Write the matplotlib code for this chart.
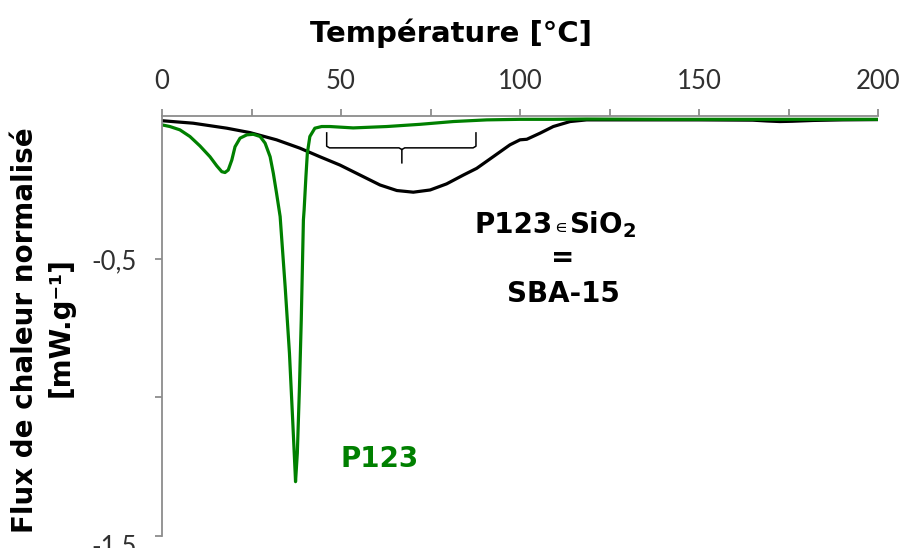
import matplotlib.pyplot as plt
import matplotlib.transforms as mtransforms

# SBA-15 (P123 in SiO2), black curve
t_sba = [0, 8.7, 18.1, 24.6, 32.0, 38.5, 44.1, 49.7, 55.3, 60.9, 65.6, 70.2, 74.9, 79.5,
         84.2, 87.9, 92.5, 97.2, 100, 101.9, 105.6, 109.3, 114, 118.6, 130, 150, 165,
         169, 172.6, 176, 182, 190, 200]
q_sba = [-0.001, -0.010, -0.028, -0.044, -0.070, -0.100, -0.131, -0.161, -0.197, -0.233,
         -0.253, -0.259, -0.251, -0.229, -0.197, -0.173, -0.131, -0.088, -0.070, -0.068,
         -0.046, -0.022, -0.004, 0.002, 0.002, 0.002, 0.001, -0.002, -0.004, -0.003,
         0.0, 0.002, 0.003]

# pure P123, green curve
t_p123 = [0, 2.2, 5.0, 7.8, 10.6, 13.4, 15.3, 16.7, 17.6, 18.5, 19.5, 20.4, 21.8, 23.7,
          25.5, 27.4, 28.8, 30.2, 31.1, 32.0, 33.0, 34.4, 35.6, 36.5, 37.2, 37.3, 37.8,
          38.4, 38.9, 39.3, 39.5, 39.7, 40.2, 40.6, 41.3, 42.7, 44.6, 46.9, 53.4, 62.8,
          72.1, 81.4, 90.7, 100, 109.3, 118.6, 140, 170, 200]
q_p123 = [-0.016, -0.022, -0.034, -0.058, -0.092, -0.131, -0.164, -0.185, -0.188, -0.179,
          -0.143, -0.095, -0.064, -0.052, -0.050, -0.058, -0.082, -0.131, -0.191, -0.263,
          -0.347, -0.600, -0.840, -1.081, -1.274, -1.304, -1.201, -0.961, -0.720, -0.479,
          -0.359, -0.323, -0.203, -0.118, -0.058, -0.028, -0.022, -0.022, -0.027, -0.022,
          -0.014, -0.004, 0.002, 0.004, 0.004, 0.005, 0.004, 0.004, 0.004]

x_ticks = [0, 25, 50, 75, 100, 125, 150, 175, 200]
x_labels = ['0', '', '50', '', '100', '', '150', '', '200']
y_ticks = [-1.5, -1.0, -0.5]
y_labels = ['-1,5', '', '-0,5']

green = '#008000'
grey = '#8c8c8c'

fig = plt.figure(figsize=(9.05, 5.48), dpi=100)
ax = fig.add_axes([162 / 905, 1 - 536 / 548, 716 / 905, 420 / 548])

ax.plot(t_sba, q_sba, color='black', lw=2.3, solid_joinstyle='round')
ax.plot(t_p123, q_p123, color=green, lw=2.3, solid_joinstyle='round')

# brace over the broad endotherm
bx0, bx1, bxm = 46, 87.7, 67
by0, by1, bym = -0.045, -0.099, -0.153
ax.plot([bx0, bx0, bx0 + 0.8, bxm - 0.8, bxm, bxm],
        [by0, by1 + 0.006, by1, by1, by1 - 0.006, bym], color='black', lw=1.1)
ax.plot([bx1, bx1, bx1 - 0.8, bxm + 0.8, bxm],
        [by0, by1 + 0.006, by1, by1, by1 - 0.006], color='black', lw=1.1)

ax.set_xlim(0, 200)
ax.set_ylim(-1.5, 0.016)

ax.xaxis.tick_top()
ax.set_xticks(x_ticks)
ax.set_xticklabels(x_labels)
ax.set_yticks(y_ticks)
ax.set_yticklabels(y_labels)

for s in ['right', 'bottom']:
    ax.spines[s].set_visible(False)
for s in ['left', 'top']:
    ax.spines[s].set_color(grey)
    ax.spines[s].set_linewidth(1.3)

ax.tick_params(axis='both', direction='out', length=5, width=1.3, color=grey,
               labelsize=18.5, labelcolor='#303030')
ax.tick_params(axis='x', pad=11)
ax.tick_params(axis='y', pad=13)
for lab in ax.get_xticklabels() + ax.get_yticklabels():
    lab.set_family(['Lato', 'DejaVu Sans'])
    lab.set_fontweight('normal')
# bottom label sits a little below its tick in the original
low = ax.get_yticklabels()[0]
low.set_transform(low.get_transform() +
                  mtransforms.ScaledTranslation(0, -8 / 100, fig.dpi_scale_trans))

fig.text(451 / 905, 1 - 33 / 548, 'Température [°C]', ha='center', va='center',
         fontsize=21, fontweight='bold')
fig.text(25 / 905, 1 - 330 / 548, 'Flux de chaleur normalisé', rotation=90,
         ha='center', va='center', fontsize=20, fontweight='bold')
fig.text(61 / 905, 1 - 327 / 548, '[mW.g⁻¹]', rotation=90,
         ha='center', va='center', fontsize=20, fontweight='bold')

tx = 111.3
ax.annotate('P123', (tx, -0.406), xytext=(-8, 0), textcoords='offset pixels',
            ha='right', va='baseline', fontsize=20, fontweight='bold')
ax.annotate('∊', (tx, -0.406), xytext=(0, 0), textcoords='offset pixels',
            ha='center', va='baseline', fontsize=13)
ax.annotate(r'SiO$_\mathbf{2}$', (tx, -0.406), xytext=(9, 0), textcoords='offset pixels',
            ha='left', va='baseline', fontsize=20, fontweight='bold')
ax.text(112.0, -0.496, '=', ha='center', va='center', fontsize=20, fontweight='bold')
ax.text(112.0, -0.655, 'SBA-15', ha='center', va='baseline', fontsize=20, fontweight='bold')
ax.text(60.9, -1.251, 'P123', ha='center', va='baseline', fontsize=20, fontweight='bold',
        color=green)

fig.savefig('out.png', dpi=100)
